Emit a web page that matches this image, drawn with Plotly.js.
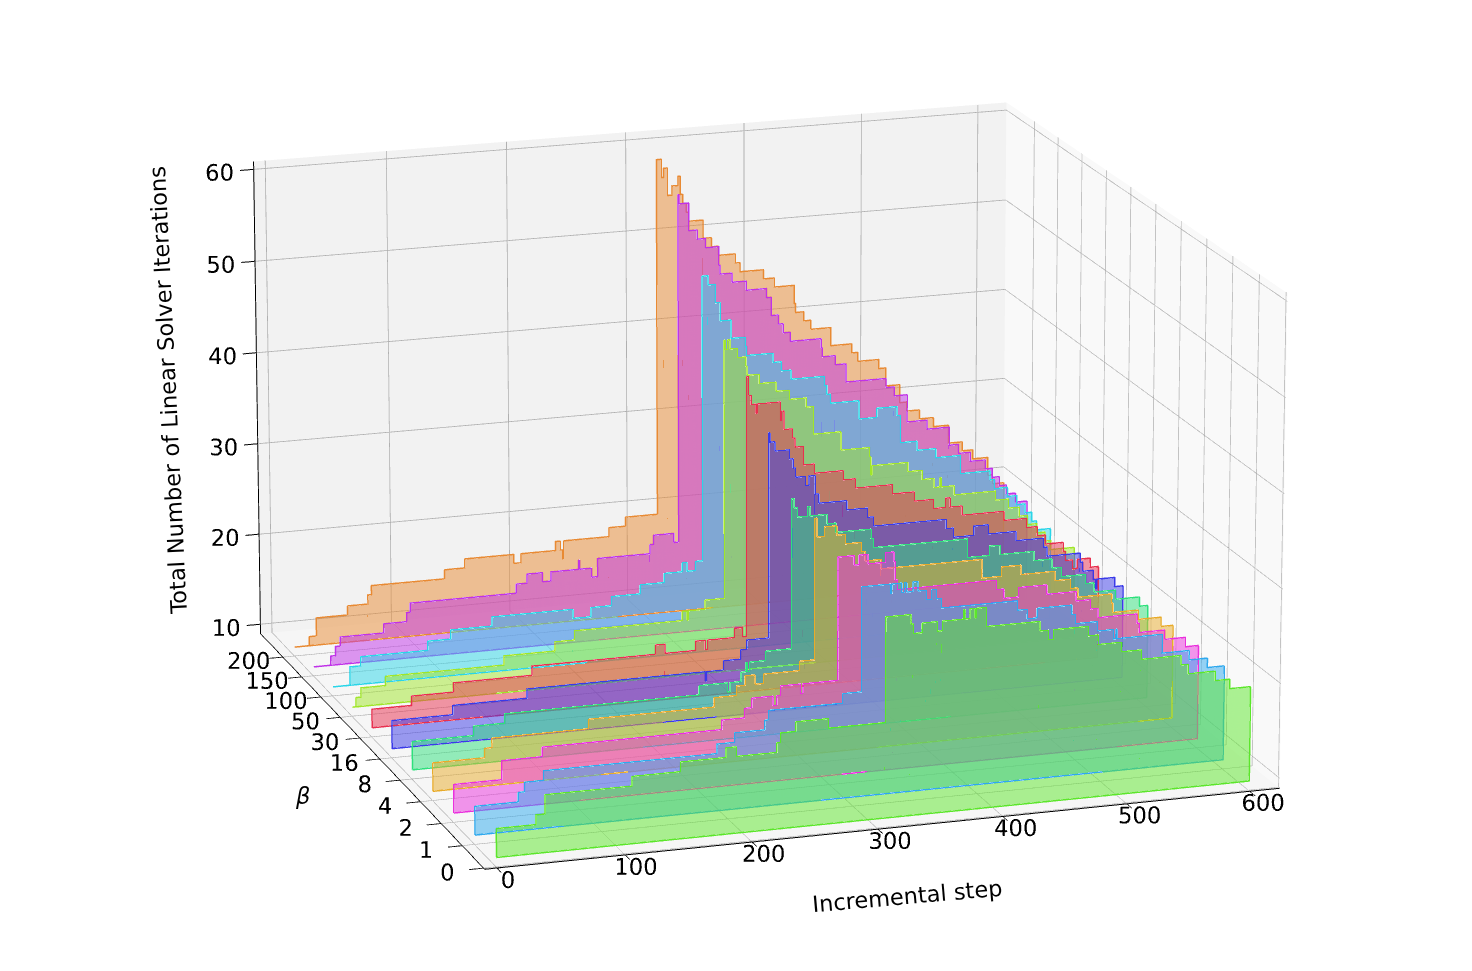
<!DOCTYPE html>
<html><head><meta charset="utf-8">
<script src="https://cdn.plot.ly/plotly-3.0.1.min.js"></script>
<style>html,body{margin:0;padding:0;background:#fff;overflow:hidden;width:1472px;height:971px}
#c{position:absolute;left:21px;top:-3531px;width:1472px;height:8000px}</style></head>
<body><div id="c"></div>
<script>
var betaLabels=["0","1","2","4","8","16","30","50","100","150","200"];
var colors=["#5ce62b","#2fa9ee","#ea30dd","#e8ab2a","#2ee07c","#3a3ae8","#e8304f","#a0e62a","#2ad5e8","#c033e8","#e88a33"];
var x0=[0,31,38,106,144,180,188,220,223,235,261,306,326,328,335,347,351,368,369,373,377,378,386,429,436,440,468,476,495,511,543,549,571,583,600];
var z0=[13,14,16,17,18,19,18,19,20,21,20,31,30,29,30,29,30,31,30,31,30,31,29,28,27,28,27,26,25,24,23,22,21,20,20];
var x1=[0,34,39,54,191,205,229,232,291,306,329,330,338,340,342,347,351,358,362,366,370,431,439,447,475,478,496,509,511,512,549,571,586,600];
var z1=[13,14,15,16,17,18,19,20,21,32,31,32,31,32,31,32,31,30,31,30,29,28,27,28,27,26,25,24,25,24,22,21,20,20];
var x2=[0,38,70,213,231,237,254,257,260,276,278,306,319,323,330,344,351,352,354,434,440,452,475,499,511,517,549,551,572,589,600];
var z2=[13,15,16,17,18,19,18,19,20,19,20,33,32,33,32,33,32,30,29,28,27,28,27,26,25,24,23,22,21,20,20];
var x3=[0,41,47,124,225,243,250,258,265,294,306,308,314,324,331,344,347,360,442,458,474,502,515,521,549,550,571,590,600];
var z3=[13,14,15,16,17,18,19,18,19,20,35,33,34,33,32,31,30,29,27,28,27,26,25,24,23,22,21,20,20];
var x4=[0,49,74,231,254,256,265,269,270,272,285,306,308,311,319,321,335,342,371,373,450,468,477,505,520,528,548,555,573,593,600];
var z4=[13,14,15,16,15,16,17,18,17,18,19,35,34,33,34,33,32,31,30,29,27,28,27,26,25,24,23,22,21,20,20];
var x5=[0,49,109,254,255,269,283,288,306,307,311,323,326,328,336,339,344,347,370,387,392,452,458,475,487,510,533,536,564,566,575,577,578,593,600];
var z5=[13,14,15,14,15,16,17,18,40,39,38,37,36,35,34,35,33,32,31,30,29,28,27,28,27,26,25,24,23,22,21,20,21,20,20];
var x6=[0,32,66,130,231,239,264,272,274,296,303,306,308,310,314,315,334,335,337,344,346,353,362,386,396,427,445,461,471,475,485,520,539,548,555,570,572,578,582,593,600];
var z6=[12,13,14,15,16,15,16,15,16,17,16,44,42,41,40,41,39,40,38,37,36,34,33,32,31,30,29,28,29,28,27,26,25,24,23,22,21,20,21,20,20];
var x7=[0,3,7,27,124,166,182,271,275,276,290,306,307,309,311,317,324,325,335,349,360,374,380,403,427,428,429,459,471,481,486,487,498,533,544,553,560,568,575,580,600];
var z7=[10,11,12,13,14,15,16,17,16,17,18,46,45,46,45,44,43,42,41,40,39,38,35,33,32,30,31,30,29,28,29,28,27,26,25,24,23,22,21,20,20];
var x8=[0,14,23,78,97,131,198,213,230,254,274,289,293,300,306,311,317,321,330,342,343,365,372,380,408,410,413,437,452,469,472,486,502,523,548,552,563,571,578,584,588,600];
var z8=[10,12,13,14,15,16,15,16,17,18,19,20,19,20,51,50,48,46,44,43,42,41,40,39,38,37,36,34,35,34,31,30,29,27,26,25,24,23,22,21,20,20];
var x9=[0,14,18,22,58,77,80,168,177,190,197,220,221,231,236,280,283,300,304,305,313,320,327,338,339,349,361,378,382,388,392,398,424,425,436,445,479,486,497,514,533,541,551,564,570,576,582,590,600];
var z9=[10,11,12,13,14,15,16,17,18,17,18,19,18,17,19,20,21,20,58,57,54,53,52,50,49,48,47,46,44,43,42,41,40,39,38,36,35,34,31,30,28,27,26,25,24,23,22,21,21];
var x10=[0,12,18,44,61,64,125,142,183,189,218,222,224,225,263,277,304,308,310,313,317,322,324,326,329,331,343,350,356,370,374,394,403,420,421,428,434,451,469,474,492,498,510,516,527,539,552,564,573,586,590,600];
var z10=[10,11,13,14,15,16,17,18,17,18,19,18,17,19,20,21,60,58,59,56,57,58,56,55,54,53,51,50,49,48,47,46,45,43,42,41,40,38,37,36,35,33,31,30,29,28,26,25,24,22,21,21];
var seriesX=[x0,x1,x2,x3,x4,x5,x6,x7,x8,x9,x10];
var seriesZ=[z0,z1,z2,z3,z4,z5,z6,z7,z8,z9,z10];
var baseZ=10;
var traces=[];
for(var s=10;s>=0;s--){
  var bx=seriesX[s],bz=seriesZ[s],px=[],pz=[];
  for(var k=0;k<bx.length;k++){
    px.push(bx[k]);pz.push(bz[k]);
    if(k<bx.length-1){px.push(bx[k+1]);pz.push(bz[k]);}
  }
  var mx=[],my=[],mz=[],I=[],J=[],K=[],n=px.length;
  for(var m=0;m<n;m++){mx.push(px[m],px[m]);my.push(s,s);mz.push(baseZ,pz[m]);}
  for(var t=0;t<n-1;t++){var a=2*t;I.push(a,a+1);J.push(a+2,a+2);K.push(a+1,a+3);}
  traces.push({type:'mesh3d',x:mx,y:my,z:mz,i:I,j:J,k:K,color:colors[s],opacity:0.5,flatshading:true,
    lighting:{ambient:1,diffuse:0,specular:0,fresnel:0,roughness:1},hoverinfo:'skip',showscale:false});
  var lx=[px[0]].concat(px,[px[n-1],px[0]]),lz=[baseZ].concat(pz,[baseZ,baseZ]);
  traces.push({type:'scatter3d',mode:'lines',x:lx,y:lx.map(function(){return s-0.03;}),z:lz,
    line:{color:colors[s],width:3},hoverinfo:'skip',showlegend:false});
}
var axisCommon={showgrid:true,gridcolor:'#b0b0b0',gridwidth:1.6,zeroline:false,showline:true,linecolor:'#000',linewidth:2,
  ticks:'outside',ticklen:12,tickcolor:'#000',tickwidth:2,tickangle:0,showbackground:true,showspikes:false,
  tickfont:{family:'DejaVu Sans',size:16.5,color:'#000'}};
var titleFont={family:'DejaVu Sans',size:22.5,color:'#000'};
var cssLeft=21,cssTop=-3531,cssH=8000;
function annX(p){return (p-cssLeft)/1472;}
function annY(p){return 1-(p-cssTop)/cssH;}
var layout={width:1472,height:cssH,margin:{l:0,r:0,t:0,b:0},paper_bgcolor:'#fff',showlegend:false,
 annotations:[
  {xref:'paper',yref:'paper',x:annX(907),y:annY(896),xanchor:'center',yanchor:'middle',text:'Incremental step',showarrow:false,textangle:-5,font:titleFont},
  {xref:'paper',yref:'paper',x:annX(168),y:annY(391),xanchor:'center',yanchor:'middle',text:'Total Number of Linear Solver Iterations',showarrow:false,textangle:-92.8,font:titleFont},
  {xref:'paper',yref:'paper',x:annX(302),y:annY(796),xanchor:'center',yanchor:'middle',text:'<i>β</i>',showarrow:false,font:titleFont}],
 scene:{domain:{x:[0,1],y:[0,1]},aspectmode:'manual',aspectratio:{x:1,y:1,z:0.618},
  camera:{eye:{x:-3.543,y:-10.85,z:3.264},center:{x:0,y:0,z:0},up:{x:0,y:0,z:1}},
  xaxis:Object.assign({},axisCommon,{range:[-9.6,624.6],tickvals:[0,100,200,300,400,500,600],backgroundcolor:'#f9f9f9',title:{text:''}}),
  yaxis:Object.assign({},axisCommon,{range:[-0.05,11.2],tickmode:'array',tickvals:[0,1,2,3,4,5,6,7,8,9,10],ticktext:betaLabels,backgroundcolor:'#f2f2f2',title:{text:''}}),
  zaxis:Object.assign({},axisCommon,{range:[8.95,60.85],tickvals:[10,20,30,40,50,60],backgroundcolor:'#f6f6f6',title:{text:''}})
 }};
Plotly.newPlot('c',traces,layout,{displayModeBar:false,plotGlPixelRatio:1});
</script></body></html>
